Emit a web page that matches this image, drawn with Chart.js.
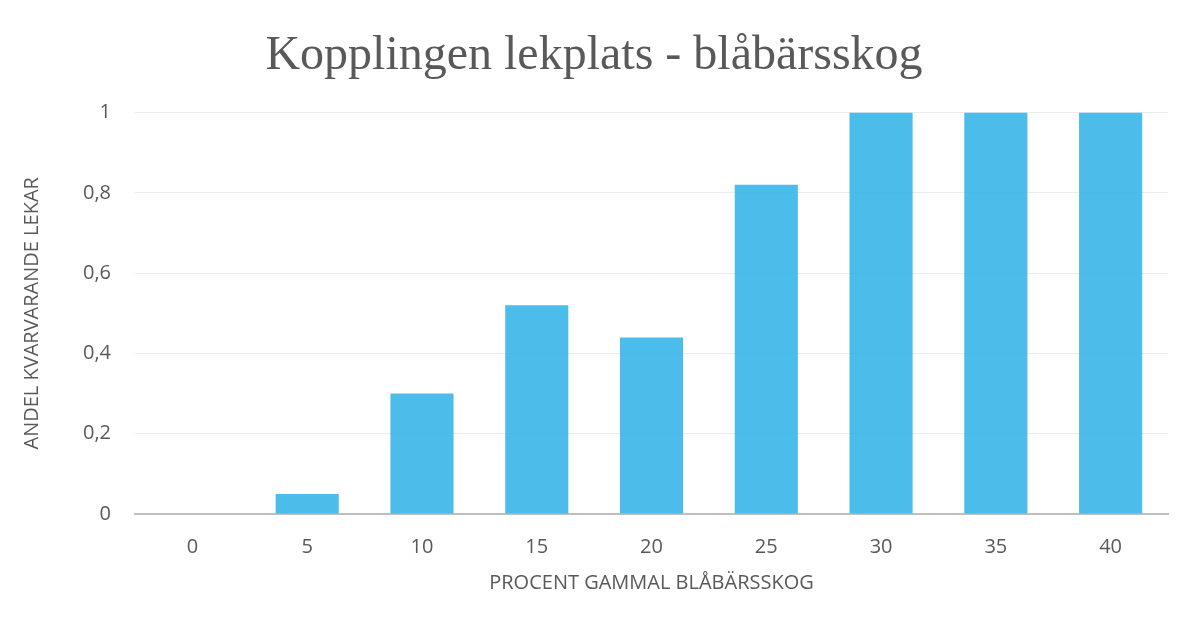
<!DOCTYPE html>
<html>
<head>
<meta charset="utf-8">
<script src="https://cdn.jsdelivr.net/npm/chart.js@4.4.1/dist/chart.umd.min.js"></script>
<style>
  html, body { margin: 0; padding: 0; background: #ffffff; }
  #wrap { width: 1187px; height: 623px; position: relative; }
</style>
</head>
<body>
<div id="wrap"><canvas id="chart" width="1187" height="623"></canvas></div>
<script>
// data
const categories = ["0", "5", "10", "15", "20", "25", "30", "35", "40"];
const andelKvar = [0, 0.05, 0.3, 0.52, 0.44, 0.82, 1, 1, 1];
const yTicks = [0, 0.2, 0.4, 0.6, 0.8, 1];

const textGrey = "#595959";

const ctx = document.getElementById("chart");
const chart = new Chart(ctx, {
  type: "bar",
  data: {
    labels: categories,
    datasets: [
      {
        label: "Andel kvarvarande lekar",
        data: andelKvar,
        backgroundColor: "rgba(56, 182, 232, 0.9)",
        borderWidth: 0,
        barPercentage: 0.55,
        categoryPercentage: 1,
      },
    ],
  },
  options: {
    responsive: false,
    animation: false,
    layout: { padding: { left: 20, right: 19, top: 28, bottom: 28 } },
    plugins: {
      legend: { display: false },
      tooltip: { enabled: false },
      title: {
        display: true,
        text: "Kopplingen lekplats - blåbärsskog",
        color: textGrey,
        font: { family: "'Liberation Serif', serif", size: 48, weight: "normal" },
        padding: { top: 0, bottom: 27 },
      },
    },
    scales: {
      x: {
        grid: { display: false, drawTicks: false },
        border: { display: true, color: "#bfbfbf", width: 2 },
        ticks: {
          color: textGrey,
          font: { family: "'Open Sans', sans-serif", size: 20 },
          padding: 21,
        },
        title: {
          display: true,
          text: "PROCENT GAMMAL BLÅBÄRSSKOG",
          color: textGrey,
          font: { family: "'Open Sans', sans-serif", size: 20 },
          padding: { top: -9, bottom: 0 },
        },
      },
      y: {
        min: 0,
        max: 1,
        afterBuildTicks: (axis) => {
          axis.ticks = yTicks.map((v) => ({ value: v }));
        },
        grid: { color: "#ececec", lineWidth: 1, drawTicks: false },
        border: { display: false },
        ticks: {
          color: textGrey,
          font: { family: "'Open Sans', sans-serif", size: 20 },
          padding: 24,
          callback: (v) => String(v).replace(".", ","),
        },
        title: {
          display: true,
          text: "ANDEL KVARVARANDE LEKAR",
          color: textGrey,
          font: { family: "'Open Sans', sans-serif", size: 20 },
          padding: { top: 0, bottom: 15 },
        },
      },
    },
  },
});
</script>
</body>
</html>
